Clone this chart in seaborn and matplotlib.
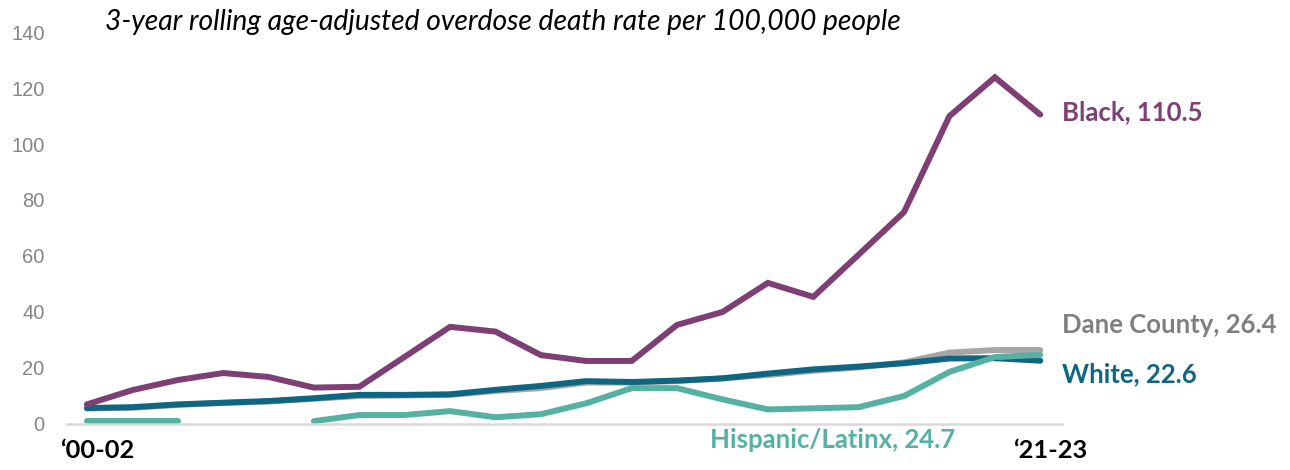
import numpy as np
import pandas as pd
import matplotlib
matplotlib.use("Agg")
import matplotlib.pyplot as plt
import matplotlib.transforms as mtransforms
import seaborn as sns

# 3-year rolling windows, '00-02 through '21-23
periods = [f"{y % 100:02d}-{(y + 2) % 100:02d}" for y in range(2000, 2022)]
first_label = "\u201800-02"
last_label = "\u201821-23"

black = [7.0, 12.1, 15.7, 18.2, 16.8, 13.0, 13.3, 24.0, 34.7, 33.0, 24.6,
         22.5, 22.5, 35.4, 40.0, 50.4, 45.4, 60.5, 75.7, 110.0, 123.8, 110.5]
white = [5.7, 6.0, 7.0, 7.6, 8.2, 9.2, 10.4, 10.4, 10.6, 12.2, 13.6,
         15.3, 15.0, 15.5, 16.3, 18.0, 19.5, 20.5, 21.7, 23.4, 23.5, 22.6]
dane = [5.5, 5.8, 6.8, 7.5, 8.0, 9.0, 10.0, 10.2, 10.4, 11.8, 12.8,
        14.8, 14.8, 15.3, 16.3, 17.5, 19.0, 20.2, 22.0, 25.5, 26.4, 26.4]
hispanic = [1.0, 1.0, 1.0, np.nan, np.nan, 1.0, 3.2, 3.2, 4.6, 2.4, 3.5,
            7.4, 12.8, 12.8, 8.8, 5.2, 5.6, 6.0, 10.0, 18.6, 23.9, 24.7]

series_names = ["Dane County", "White", "Hispanic/Latinx", "Black"]
series_values = [dane, white, hispanic, black]
colors = {"Dane County": "#a6a6a6", "White": "#0f6682",
          "Hispanic/Latinx": "#55b1a2", "Black": "#7e3f74"}
label_colors = {"Dane County": "#7f7f7f", "White": "#0f6682",
                "Hispanic/Latinx": "#55b1a2", "Black": "#7e3f74"}

yticks = [0, 20, 40, 60, 80, 100, 120, 140]
title = "3-year rolling age-adjusted overdose death rate per 100,000 people"

sns.set_theme(style="white")
plt.rcParams["font.family"] = ["Lato", "DejaVu Sans"]

fig = plt.figure(figsize=(12.9, 4.7), dpi=100)
ax = fig.add_axes([0.0519, 0.0979, 0.7714, 0.834])

idx = np.arange(len(periods))
for name, vals in zip(series_names, series_values):
    v = np.asarray(vals, dtype=float)
    ok = ~np.isnan(v)
    # split into contiguous runs so gaps stay open
    run_id = np.cumsum(~ok)
    for r in np.unique(run_id[ok]):
        m = ok & (run_id == r)
        df = pd.DataFrame({"period": idx[m], "rate": v[m]})
        sns.lineplot(data=df, x="period", y="rate", ax=ax, color=colors[name],
                     linewidth=4.3, solid_capstyle="round",
                     solid_joinstyle="miter", legend=False)

ax.set_xlim(-0.44, 21.48)
ax.set_ylim(0, 140)
ax.set_yticks(yticks)
ax.set_yticklabels([str(t) for t in yticks], fontfamily="Liberation Sans",
                   fontsize=14.5, color="#858585")
ax.tick_params(axis="y", length=0, pad=16)
ax.set_xticks([0, 21])
ax.set_xticklabels([first_label, last_label], fontsize=18.3,
                   fontweight="bold", color="black")
ax.tick_params(axis="x", length=0, pad=11)
# nudge the period labels a little to the right of their ticks
shift = mtransforms.ScaledTranslation(0.10, 0, fig.dpi_scale_trans)
for lbl in ax.get_xticklabels():
    lbl.set_transform(lbl.get_transform() + shift)
ax.set_xlabel("")
ax.set_ylabel("")
for s in ["top", "right", "left"]:
    ax.spines[s].set_visible(False)
ax.spines["bottom"].set_color("#d9d9d9")
ax.spines["bottom"].set_linewidth(1.8)

# end-of-line labels
lab_x = 21.48
label_pos = {"Black": (lab_x, 111.4, black[-1]),
             "Dane County": (lab_x, 35.4, dane[-1]),
             "White": (lab_x, 17.9, white[-1]),
             "Hispanic/Latinx": (13.72, -5.7, hispanic[-1])}
for name, (x, y, val) in label_pos.items():
    ax.text(x, y, f"{name}, {val:.1f}", color=label_colors[name],
            fontsize=18.5, fontweight="bold", ha="left", va="center",
            clip_on=False)

fig.text(105 / 1290, 1 - 22 / 470, title, fontstyle="italic",
         fontsize=20.3, color="black", ha="left", va="center")

fig.savefig("out.png", dpi=100, facecolor="white")
